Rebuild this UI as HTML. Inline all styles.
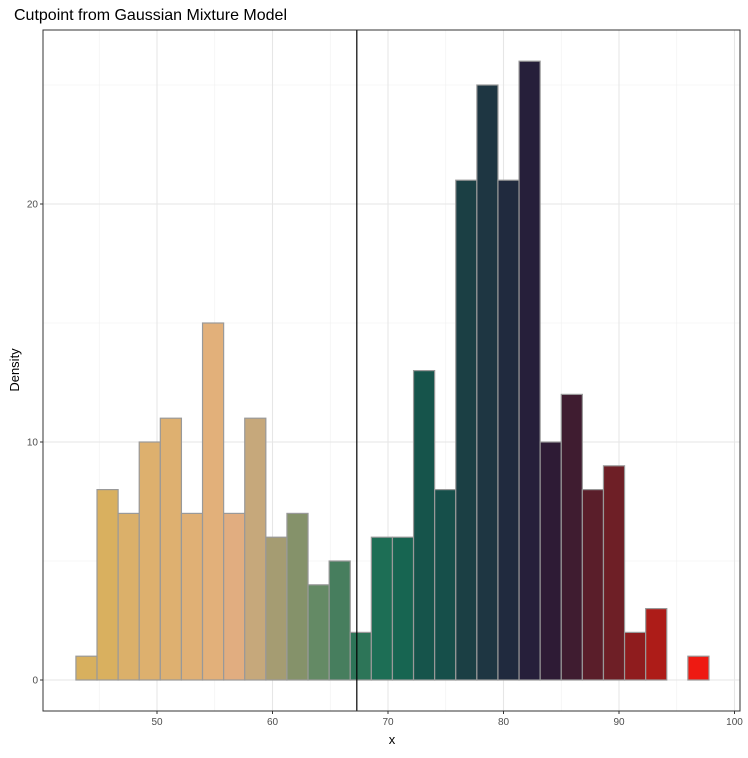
<!DOCTYPE html>
<html><head><meta charset="utf-8"><style>
body{margin:0;background:#fff;font-family:"Liberation Sans",Arial,sans-serif}
</style></head><body>
<svg id="chart" width="748" height="753" xmlns="http://www.w3.org/2000/svg" font-family="Liberation Sans, Arial, sans-serif">
<text x="14" y="20" font-size="16" fill="#000">Cutpoint from Gaussian Mixture Model</text>
<rect x="43" y="30" width="697" height="681" fill="#fff"/>
<g id="grid"></g>
<g id="bars"></g>
<g id="axes"></g>
<text x="392" y="744" font-size="13" text-anchor="middle">x</text>
<text transform="translate(19,370) rotate(-90)" font-size="13" text-anchor="middle">Density</text>
</svg>
<script>
const counts=[1,8,7,10,11,7,15,7,11,6,7,4,5,2,6,6,13,8,21,25,21,26,10,12,8,9,2,3,0,1];
const colors=["#d8b05e","#d9b05f","#dbb06a","#ddb06e","#deb070","#e0b075","#e2b07a","#e1ad80","#c6a87b","#a59c72","#85926a","#648a65","#477e5e","#2d7558","#1d6e55","#176551","#16544b","#164f4a","#1b3f44","#1e3642","#202a3e","#261f3a","#2e1b35","#3f1c30","#5a1e2a","#6e1f26","#8f1c1e","#ad1c18","#c01a16","#ee1a12"];
const binStart=42.98, binWidth=1.827;
const xTicks=[50,60,70,80,90,100];
const xMinor=[45,55,65,75,85,95];
const yTicks=[0,10,20];
const yMinor=[5,15,25];
const cutpoint=67.3;
const X=v=>157+(v-50)*11.55;
const Y=v=>680-v*23.8;
const NS="http://www.w3.org/2000/svg";
function mk(t,a,p){const e=document.createElementNS(NS,t);for(const k in a)e.setAttribute(k,a[k]);p.appendChild(e);return e;}
const grid=document.getElementById('grid'),bars=document.getElementById('bars'),axes=document.getElementById('axes');
const L=43,R=740,T=30,B=711;
yMinor.forEach(v=>{const e=mk('line',{x1:L,x2:R,y1:Y(v),y2:Y(v),stroke:'#f0f0f0','stroke-width':0.6},grid);

});
xMinor.forEach(v=>{const e=mk('line',{x1:X(v),x2:X(v),y1:T,y2:B,stroke:'#f0f0f0','stroke-width':0.6},grid);

});
yTicks.forEach(v=>{const e=mk('line',{x1:L,x2:R,y1:Y(v),y2:Y(v),stroke:'#e6e6e6','stroke-width':1.1},grid);

});
xTicks.forEach(v=>{const e=mk('line',{x1:X(v),x2:X(v),y1:T,y2:B,stroke:'#e6e6e6','stroke-width':1.1},grid);

});
counts.forEach((c,i)=>{const x0=X(binStart+i*binWidth),x1=X(binStart+(i+1)*binWidth);
const r=mk('rect',{x:x0,y:Y(c),width:x1-x0,height:Y(0)-Y(c),fill:colors[i],stroke:'#999999','stroke-width':1.2},bars);

});
const cl=mk('line',{x1:X(cutpoint),x2:X(cutpoint),y1:T,y2:B,stroke:'#000','stroke-width':1.2},bars);


const fr=mk('rect',{x:L,y:T,width:R-L,height:B-T,fill:'none',stroke:'#333','stroke-width':1},axes);


xTicks.forEach(v=>{mk('line',{x1:X(v),x2:X(v),y1:B,y2:B+3,stroke:'#333'},axes);
const t=mk('text',{x:X(v),y:B+14,'font-size':10,'text-anchor':'middle',fill:'#4d4d4d'},axes);t.textContent=v;

});
yTicks.forEach(v=>{mk('line',{x1:L-3,x2:L,y1:Y(v),y2:Y(v),stroke:'#333'},axes);
const t=mk('text',{x:L-5,y:Y(v)+3.5,'font-size':10,'text-anchor':'end',fill:'#4d4d4d'},axes);t.textContent=v;

});
</script>
</body></html>
